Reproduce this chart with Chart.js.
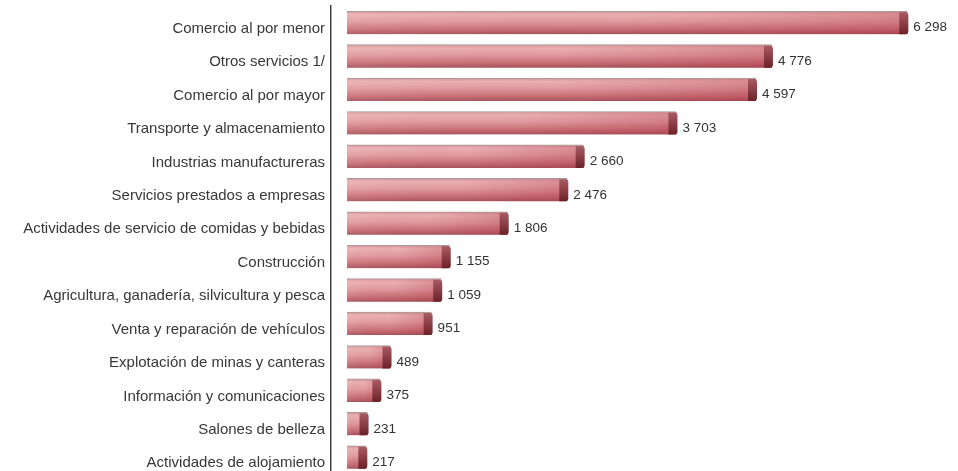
<!DOCTYPE html>
<html lang="es">
<head>
<meta charset="utf-8">
<title>Establecimientos por actividad</title>
<script src="https://cdn.jsdelivr.net/npm/chart.js@4/dist/chart.umd.min.js"></script>
<style>
  html, body { margin: 0; padding: 0; background: #fff; overflow: hidden; }
  #wrap { width: 958px; height: 474px; position: relative; }
</style>
</head>
<body>
<div id="wrap"><canvas id="grafica"></canvas></div>
<script>
const categorias = [
  'Comercio al por menor',
  'Otros servicios 1/',
  'Comercio al por mayor',
  'Transporte y almacenamiento',
  'Industrias manufactureras',
  'Servicios prestados a empresas',
  'Actividades de servicio de comidas y bebidas',
  'Construcción',
  'Agricultura, ganadería, silvicultura y pesca',
  'Venta y reparación de vehículos',
  'Explotación de minas y canteras',
  'Información y comunicaciones',
  'Salones de belleza',
  'Actividades de alojamiento'
];
const valores = [6298, 4776, 4597, 3703, 2660, 2476, 1806, 1155, 1059, 951, 489, 375, 231, 217];

const FUENTE = '"Liberation Sans", Arial, sans-serif';
const GROSOR = 23;

// separador de miles con espacio
const fmt = v => String(v).replace(/\B(?=(\d{3})+(?!\d))/g, ' ');

// relleno tipo cilindro: degradado vertical por barra
function rellenoBarra(context) {
  const chart = context.chart;
  const y = chart.scales.y ? chart.scales.y.getPixelForValue(context.dataIndex) : NaN;
  if (!Number.isFinite(y)) return '#dc9a9c';
  const g = chart.ctx.createLinearGradient(0, y - GROSOR / 2, 0, y + GROSOR / 2);
  g.addColorStop(0, '#d49498');
  g.addColorStop(0.15, '#eab0b2');
  g.addColorStop(0.45, '#df9a9e');
  g.addColorStop(0.8, '#c86c74');
  g.addColorStop(1, '#a4525a');
  return g;
}

// tapa oscura al final de cada barra y etiqueta de valor
const tapaYValor = {
  id: 'tapaYValor',
  afterDatasetsDraw(chart) {
    const ctx = chart.ctx;
    const meta = chart.getDatasetMeta(0);
    ctx.save();
    meta.data.forEach((bar, i) => {
      const top = bar.y - GROSOR / 2;
      // sombreado horizontal hacia el extremo derecho
      const largo = bar.x - bar.base;
      const gh = ctx.createLinearGradient(bar.base, 0, bar.x, 0);
      gh.addColorStop(0, 'rgba(255,255,255,0.08)');
      gh.addColorStop(0.5, 'rgba(170,60,75,0.0)');
      gh.addColorStop(1, 'rgba(170,40,60,0.28)');
      ctx.fillStyle = gh;
      ctx.fillRect(bar.base, top + 1, largo, GROSOR - 1);

      const w = Math.min(8, largo * 0.45);
      const gc = ctx.createLinearGradient(0, top, 0, top + GROSOR);
      gc.addColorStop(0, '#a86066');
      gc.addColorStop(0.3, '#9a4a52');
      gc.addColorStop(1, '#6a2228');
      ctx.fillStyle = gc;
      ctx.beginPath();
      ctx.roundRect(bar.x - w, top + 1, w + 1, GROSOR - 1, [0, 3, 3, 0]);
      ctx.fill();

      ctx.fillStyle = '#333';
      ctx.font = '13.5px ' + FUENTE;
      ctx.textAlign = 'left';
      ctx.textBaseline = 'middle';
      ctx.fillText(fmt(valores[i]), bar.x + 6, bar.y + 5);
    });
    ctx.restore();
  }
};

new Chart(document.getElementById('grafica'), {
  type: 'bar',
  data: {
    labels: categorias,
    datasets: [{
      data: valores,
      backgroundColor: rellenoBarra,
      borderColor: 'rgba(130,110,110,0.7)',
      borderWidth: { top: 1, right: 0, bottom: 0, left: 0 },
      borderSkipped: false,
      barThickness: GROSOR
    }]
  },
  options: {
    indexAxis: 'y',
    responsive: true,
    maintainAspectRatio: false,
    animation: false,
    layout: { padding: { top: 6, right: 6, bottom: 0, left: 0 } },
    plugins: {
      legend: { display: false },
      tooltip: { enabled: false }
    },
    scales: {
      x: {
        display: false,
        min: -180,
        max: 6800
      },
      y: {
        afterFit(scale) {
          scale.width = 331;
          scale.paddingTop = 0;
          scale.paddingBottom = 0;
        },
        grid: { display: false, drawTicks: false },
        border: { display: true, color: '#444', width: 1.5 },
        ticks: {
          padding: 6,
          labelOffset: 6,
          color: '#383838',
          font: { family: FUENTE, size: 15 }
        }
      }
    }
  },
  plugins: [tapaYValor]
});
</script>
</body>
</html>
